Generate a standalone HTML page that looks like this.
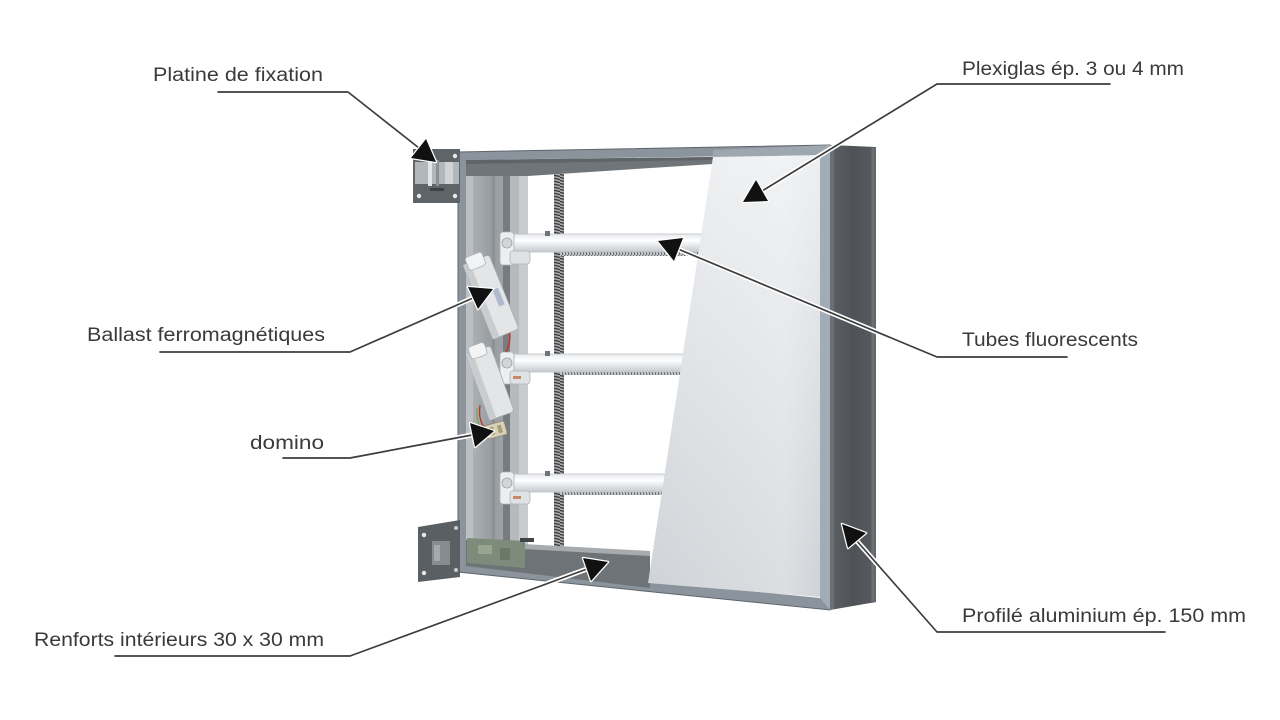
<!DOCTYPE html>
<html>
<head>
<meta charset="utf-8">
<style>
  html,body{margin:0;padding:0;background:#ffffff;}
  body{width:1280px;height:720px;overflow:hidden;}
  svg{display:block;}
  .lbl{font-family:"Liberation Sans",sans-serif;font-size:19px;fill:#3a3a3a;}
</style>
</head>
<body>
<svg width="1280" height="720" viewBox="0 0 1280 720" xmlns="http://www.w3.org/2000/svg">
  <defs>
    <linearGradient id="plexi" x1="0" y1="0" x2="0" y2="1">
      <stop offset="0" stop-color="#eceef0"/>
      <stop offset="1" stop-color="#cfd3d7"/>
    </linearGradient>
    <linearGradient id="plexiH" x1="0" y1="0" x2="1" y2="0">
      <stop offset="0" stop-color="#ffffff" stop-opacity="0"/>
      <stop offset="0.8" stop-color="#ffffff" stop-opacity="0.25"/>
      <stop offset="1" stop-color="#ffffff" stop-opacity="0"/>
    </linearGradient>
    <linearGradient id="tube" x1="0" y1="0" x2="0" y2="1">
      <stop offset="0" stop-color="#e6e8eb"/>
      <stop offset="0.35" stop-color="#ffffff"/>
      <stop offset="1" stop-color="#c5c9cd"/>
    </linearGradient>
    <linearGradient id="dark" x1="0" y1="0" x2="1" y2="0">
      <stop offset="0" stop-color="#5c6064"/>
      <stop offset="0.5" stop-color="#4f5357"/>
      <stop offset="1" stop-color="#575b5f"/>
    </linearGradient>
    <linearGradient id="wall" x1="0" y1="0" x2="1" y2="0">
      <stop offset="0" stop-color="#b3b7ba"/>
      <stop offset="0.4" stop-color="#989da1"/>
      <stop offset="1" stop-color="#a7abae"/>
    </linearGradient>
    <pattern id="thr" width="10" height="3" patternUnits="userSpaceOnUse">
      <rect width="10" height="3" fill="#a6a9ab"/>
      <path d="M0 0.4 L10 2.6" stroke="#3b3e41" stroke-width="1.3"/>
    </pattern>
    <pattern id="coil" width="3" height="5" patternUnits="userSpaceOnUse">
      <rect width="3" height="5" fill="#cdd0d2"/>
      <path d="M0.5 0 L2 5" stroke="#55585b" stroke-width="1"/>
    </pattern>
  </defs>

  <!-- ===== FRAME ===== -->
  <polygon points="458,152 830,145 830,610 458,572" fill="#8b949c" stroke="#5e656b" stroke-width="1"/>
  <!-- opening -->
  <polygon points="466,160 820,155 820,598 466,563" fill="#ffffff"/>

  <!-- left inner wall -->
  <polygon points="466,160 528,172 528,548 466,563" fill="url(#wall)"/>
  <rect x="466" y="168" width="7" height="392" fill="#bcc0c3"/>
  <rect x="492" y="172" width="3" height="380" fill="#8c9195"/>
  <rect x="503" y="172" width="7" height="378" fill="#777c81"/>
  <rect x="510" y="172" width="9" height="378" fill="#b6babd"/>
  <rect x="519" y="172" width="9" height="378" fill="#c9cccf"/>

  <!-- top inner wall -->
  <polygon points="466,160 713,157 713,164 528,176 466,176" fill="#70757a"/>
  <polygon points="466,160 713,157 713,160 466,164" fill="#5f6469"/>

  <!-- threaded rod -->
  <rect x="554" y="174" width="10" height="375" fill="url(#thr)"/>

  <!-- ===== TUBES ===== -->
  <!-- tube 1 -->
  <rect x="560" y="251" width="155" height="5" fill="url(#coil)"/>
  <rect x="508" y="234" width="208" height="18" rx="8" fill="url(#tube)" stroke="#b9bdc1" stroke-width="0.8"/>
  <!-- tube 2 -->
  <rect x="560" y="370" width="130" height="5" fill="url(#coil)"/>
  <rect x="508" y="354" width="182" height="18" rx="8" fill="url(#tube)" stroke="#b9bdc1" stroke-width="0.8"/>
  <!-- tube 3 -->
  <rect x="560" y="490" width="110" height="5" fill="url(#coil)"/>
  <rect x="508" y="474" width="162" height="18" rx="8" fill="url(#tube)" stroke="#b9bdc1" stroke-width="0.8"/>

  <!-- clips on tubes near rod -->
  <rect x="545" y="231" width="5" height="5" fill="#6f7376"/>
  <rect x="545" y="351" width="5" height="5" fill="#6f7376"/>
  <rect x="545" y="471" width="5" height="5" fill="#6f7376"/>

  <!-- lamp holders -->
  <g>
    <rect x="500" y="232" width="14" height="33" rx="3" fill="#eceef0" stroke="#aeb2b6" stroke-width="0.8"/>
    <rect x="510" y="251" width="20" height="13" rx="3" fill="#dfe2e5" stroke="#aeb2b6" stroke-width="0.8"/>
    <circle cx="507" cy="243" r="5" fill="#d2d5d8" stroke="#9da1a5" stroke-width="0.8"/>
  </g>
  <g>
    <rect x="500" y="352" width="14" height="32" rx="3" fill="#eceef0" stroke="#aeb2b6" stroke-width="0.8"/>
    <rect x="510" y="371" width="20" height="13" rx="3" fill="#dfe2e5" stroke="#aeb2b6" stroke-width="0.8"/>
    <circle cx="507" cy="363" r="5" fill="#d2d5d8" stroke="#9da1a5" stroke-width="0.8"/>
    <rect x="513" y="376" width="8" height="3" fill="#c98a6a"/>
  </g>
  <g>
    <rect x="500" y="472" width="14" height="32" rx="3" fill="#eceef0" stroke="#aeb2b6" stroke-width="0.8"/>
    <rect x="510" y="491" width="20" height="13" rx="3" fill="#dfe2e5" stroke="#aeb2b6" stroke-width="0.8"/>
    <circle cx="507" cy="483" r="5" fill="#d2d5d8" stroke="#9da1a5" stroke-width="0.8"/>
    <rect x="513" y="496" width="8" height="3" fill="#c98a6a"/>
  </g>

  <!-- ===== BALLASTS ===== -->
  <path d="M506 322 C512 332, 510 345, 506 352" stroke="#c0392b" stroke-width="1.6" fill="none"/>
  <path d="M480 405 C478 418, 482 428, 490 432" stroke="#b33a2a" stroke-width="1.4" fill="none"/>
  <path d="M477 408 C476 418, 478 425, 483 430" stroke="#7aa34a" stroke-width="1.2" fill="none"/>
  <g transform="translate(491,297) rotate(-22)">
    <rect x="-14" y="-40" width="28" height="80" rx="3" fill="#e3e5e7" stroke="#a9adb1" stroke-width="0.8"/>
    <rect x="-14" y="-40" width="7" height="80" fill="#c9cdd0"/>
    <rect x="-10" y="-46" width="18" height="14" rx="3" fill="#f2f3f4" stroke="#aeb2b6" stroke-width="0.8"/>
    <rect x="4" y="-6" width="6" height="18" fill="#8e9cc0" opacity="0.6"/>
  </g>
  <g transform="translate(490,383) rotate(-20)">
    <rect x="-13" y="-35" width="26" height="70" rx="3" fill="#e3e5e7" stroke="#a9adb1" stroke-width="0.8"/>
    <rect x="-13" y="-35" width="7" height="70" fill="#c9cdd0"/>
    <rect x="-9" y="-41" width="17" height="13" rx="3" fill="#f2f3f4" stroke="#aeb2b6" stroke-width="0.8"/>
  </g>
  <!-- domino -->
  <g transform="translate(496,430) rotate(-15)">
    <rect x="-10" y="-7" width="20" height="14" rx="2" fill="#d8d1b5" stroke="#8c8672" stroke-width="0.8"/>
    <rect x="-6" y="-4" width="4" height="8" fill="#a89d76"/>
    <rect x="2" y="-4" width="4" height="8" fill="#a89d76"/>
  </g>

  <!-- ===== BOTTOM RAIL ===== -->
  <polygon points="466,540 650,553 650,588 466,566" fill="#6e7377"/>
  <polygon points="523,544 650,551 650,556 523,549" fill="#a7abae"/>
  <!-- pcb -->
  <polygon points="467,538 525,541 525,568 467,563" fill="#7e8a7a"/>
  <rect x="478" y="545" width="14" height="9" fill="#98a690"/>
  <rect x="500" y="548" width="10" height="12" fill="#6b7767"/>
  <rect x="520" y="538" width="14" height="4" fill="#404447"/>

  <!-- ===== PLEXIGLAS ===== -->
  <polygon points="713,157 820,155 820,597 648,583" fill="url(#plexi)"/>
  <polygon points="713,157 820,155 820,597 648,583" fill="url(#plexiH)"/>

  <!-- right front border strip -->
  <polygon points="820,146 830,145 830,610 820,598" fill="#a2acb6"/>
  <!-- top front band (right part lighter) -->
  <polygon points="713,150 830,145 820,155 713,157" fill="#9ea7b0"/>

  <!-- dark side panel -->
  <polygon points="830,145 876,147 876,602 830,610" fill="url(#dark)"/>
  <polygon points="830,145 834,145 834,609 830,610" fill="#6b7075"/>
  <polygon points="871,147 876,147 876,602 871,603" fill="#63676b"/>
  <line x1="873" y1="148" x2="873" y2="601" stroke="#7a7f84" stroke-width="0.8"/>

  <!-- ===== BRACKETS ===== -->
  <!-- top bracket -->
  <g>
    <rect x="413" y="149" width="47" height="54" fill="#5f6468"/>
    <rect x="415" y="162" width="44" height="22" fill="#b2b7bb"/>
    <rect x="428" y="160" width="4" height="26" fill="#e2e5e7"/>
    <rect x="436" y="160" width="3" height="26" fill="#8b9094"/>
    <rect x="445" y="162" width="8" height="22" fill="#cfd3d6"/>
    <circle cx="419" cy="196" r="2.2" fill="#e6e8ea"/>
    <circle cx="455" cy="196" r="2.2" fill="#e6e8ea"/>
    <circle cx="455" cy="156" r="2.2" fill="#e6e8ea"/>
    <rect x="430" y="188" width="14" height="3" fill="#3e4245"/>
  </g>
  <!-- bottom bracket -->
  <g>
    <polygon points="418,527 460,520 460,577 418,582" fill="#5a5f63"/>
    <rect x="432" y="541" width="18" height="24" fill="#868c90"/>
    <rect x="434" y="545" width="6" height="16" fill="#a4aaae"/>
    <circle cx="424" cy="535" r="2.2" fill="#e6e8ea"/>
    <circle cx="424" cy="573" r="2.2" fill="#e6e8ea"/>
    <circle cx="456" cy="528" r="2" fill="#c8cbce"/>
    <circle cx="456" cy="570" r="2" fill="#c8cbce"/>
  </g>

  <!-- ===== LEADER LINES ===== -->
  <g fill="none" stroke-linejoin="round" stroke-linecap="round">
    <g stroke="#ffffff" stroke-width="5">
      <polyline points="360,101 419,148"/>
      <polyline points="365,345 473,298"/>
      <polyline points="365,455 472,435"/>
      <polyline points="365,650 587,569"/>
      <polyline points="925,91 762,191"/>
      <polyline points="925,352 678,249"/>
      <polyline points="928,622 856,540"/>
    </g>
    <g stroke="#3d3d3d" stroke-width="1.7">
      <polyline points="218,92 348,92 419,148"/>
      <polyline points="160,352 350,352 473,298"/>
      <polyline points="283,458 350,458 472,435"/>
      <polyline points="115,656 350,656 587,569"/>
      <polyline points="1110,84 937,84 762,191"/>
      <polyline points="1067,357 937,357 678,249"/>
      <polyline points="1165,632 937,632 856,540"/>
    </g>
  </g>

  <!-- ===== ARROWHEADS ===== -->
  <g fill="#111111" stroke="#ffffff" stroke-width="2.5" stroke-linejoin="round" paint-order="stroke">
    <polygon points="436,162 411,158 426,139"/>
    <polygon points="493,289 478,309 468,287"/>
    <polygon points="494,431 475,447 470,423"/>
    <polygon points="608,562 591,581 583,558"/>
    <polygon points="743,202 756,180 768,201"/>
    <polygon points="658,241 683,238 674,261"/>
    <polygon points="842,524 866,533 848,548"/>
  </g>

  <!-- ===== LABELS ===== -->
  <text class="lbl" x="153" y="81" textLength="170" lengthAdjust="spacingAndGlyphs">Platine de fixation</text>
  <text class="lbl" x="87" y="341" textLength="238" lengthAdjust="spacingAndGlyphs">Ballast ferromagnétiques</text>
  <text class="lbl" x="250" y="449" textLength="74" lengthAdjust="spacingAndGlyphs">domino</text>
  <text class="lbl" x="34" y="646" textLength="290" lengthAdjust="spacingAndGlyphs">Renforts intérieurs 30 x 30 mm</text>
  <text class="lbl" x="962" y="75" textLength="222" lengthAdjust="spacingAndGlyphs">Plexiglas ép. 3 ou 4 mm</text>
  <text class="lbl" x="962" y="346" textLength="176" lengthAdjust="spacingAndGlyphs">Tubes fluorescents</text>
  <text class="lbl" x="962" y="622" textLength="284" lengthAdjust="spacingAndGlyphs">Profilé aluminium ép. 150 mm</text>
</svg>
</body>
</html>
